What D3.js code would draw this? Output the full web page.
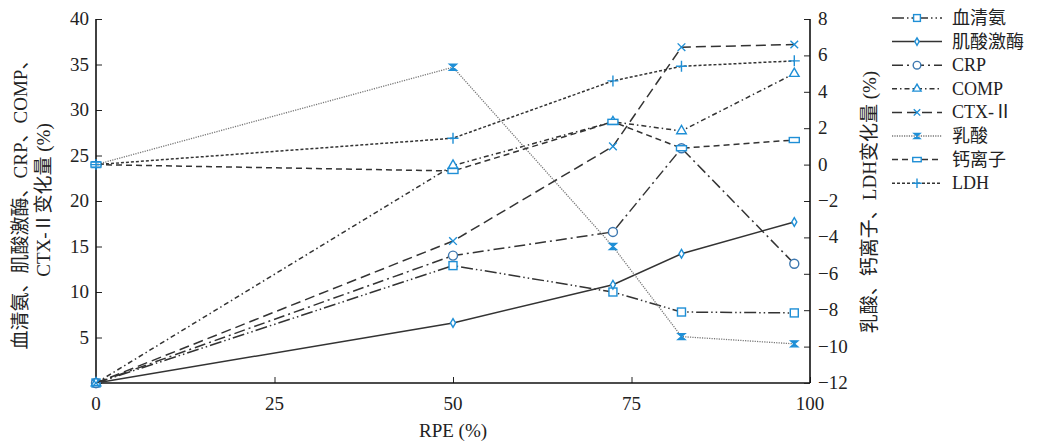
<!DOCTYPE html>
<html>
<head>
<meta charset="utf-8">
<script src="https://cdn.jsdelivr.net/npm/d3@7"></script>
<style>
  body { margin: 0; background: #fff; }
  text { font-family: "Liberation Serif", "Noto Sans CJK SC", serif; fill: #222; }
</style>
</head>
<body>
<div id="chart"></div>
<script>
// RPE positions (%)
const rpe = [0, 50, 72.4, 82, 97.8];

// left axis series (%)
const xueqingan = [0, 12.9, 10.0, 7.8, 7.7];
const jisuanjimei = [0, 6.6, 10.8, 14.2, 17.7];
const crp = [0, 14.0, 16.6, 25.8, 13.1];
const comp = [0, 23.9, 28.7, 27.7, 34.0];
const ctx2 = [0, 15.6, 26.0, 36.9, 37.2];

// right axis series (%)
const rusuan = [0, 5.35, -4.5, -9.45, -9.85];
const gailizi = [0, -0.35, 2.35, 0.9, 1.35];
const ldh = [0, 1.45, 4.6, 5.4, 5.7];

const xTicks = [0, 25, 50, 75, 100];
const leftTicks = [5, 10, 15, 20, 25, 30, 35, 40];
const rightTicks = [8, 6, 4, 2, 0, -2, -4, -6, -8, -10, -12];

const blue = "#1f8fd6";
const series = [
  { name: "血清氨", values: xueqingan, axis: "L", dash: "12,3,1.5,3,1.5,3", mark: "square" },
  { name: "肌酸激酶", values: jisuanjimei, axis: "L", dash: null, mark: "diamond" },
  { name: "CRP", values: crp, axis: "L", dash: "11,4,2,4", mark: "circle" },
  { name: "COMP", values: comp, axis: "L", dash: "5,3,1.5,3", mark: "triangle" },
  { name: "CTX-Ⅱ", values: ctx2, axis: "L", dash: "10,5", mark: "cross" },
  { name: "乳酸", values: rusuan, axis: "R", dash: "1.2,1.2", mark: "star" },
  { name: "钙离子", values: gailizi, axis: "R", dash: "6,4", mark: "rect" },
  { name: "LDH", values: ldh, axis: "R", dash: "3,2", mark: "plus" }
];

const svg = d3.select("#chart").append("svg")
  .attr("width", 1037).attr("height", 444);

const x = d3.scaleLinear().domain([0, 100]).range([96, 810]);
const yL = d3.scaleLinear().domain([0, 40]).range([383, 19]);
const yR = d3.scaleLinear().domain([-12, 8]).range([383, 19]);

// axes, ticks pointing inward
svg.append("g").attr("transform", "translate(0,383)")
  .call(d3.axisTop(x).tickValues(xTicks).tickSize(6).tickFormat(""))
  .call(g => g.select(".domain").remove());
svg.append("line").attr("x1", 96).attr("x2", 810).attr("y1", 383).attr("y2", 383)
  .attr("stroke", "#111").attr("stroke-width", 1.6);
svg.append("g").attr("transform", "translate(96,0)")
  .call(d3.axisRight(yL).tickValues([0].concat(leftTicks)).tickSize(6).tickFormat(""))
  .call(g => g.select(".domain").remove());
svg.append("line").attr("x1", 96).attr("x2", 96).attr("y1", 19).attr("y2", 383)
  .attr("stroke", "#111").attr("stroke-width", 1.6);
svg.append("g").attr("transform", "translate(810,0)")
  .call(d3.axisLeft(yR).tickValues(rightTicks).tickSize(6).tickFormat(""))
  .call(g => g.select(".domain").remove());
svg.append("line").attr("x1", 810).attr("x2", 810).attr("y1", 19).attr("y2", 383)
  .attr("stroke", "#111").attr("stroke-width", 1.6);
svg.selectAll(".tick line").attr("stroke", "#222");

// tick labels
svg.selectAll(".xl").data(xTicks).join("text")
  .attr("x", d => x(d)).attr("y", 410).attr("text-anchor", "middle")
  .style("font-size", "19px").text(d => d);
svg.selectAll(".ll").data(leftTicks).join("text")
  .attr("x", 89).attr("y", d => yL(d) + 6).attr("text-anchor", "end")
  .style("font-size", "19px").text(d => d);
svg.selectAll(".rl").data(rightTicks).join("text")
  .attr("x", 818).attr("y", d => yR(d) + 6).attr("text-anchor", "start")
  .style("font-size", "19px").text(d => d < 0 ? "−" + (-d) : d);

// axis titles
svg.append("text").attr("x", 453).attr("y", 437).attr("text-anchor", "middle")
  .style("font-size", "19px").text("RPE (%)");
svg.append("text").attr("transform", "translate(27,200) rotate(-90)").attr("text-anchor", "middle")
  .style("font-size", "19px").text("血清氨、肌酸激酶、CRP、COMP、");
svg.append("text").attr("transform", "translate(50,200) rotate(-90)").attr("text-anchor", "middle")
  .style("font-size", "19px").text("CTX-Ⅱ变化量 (%)");
svg.append("text").attr("transform", "translate(876,202) rotate(-90)").attr("text-anchor", "middle")
  .style("font-size", "19px").text("乳酸、钙离子、LDH变化量 (%)");

function drawMark(g, type, k) {
  k = k || 1;
  let el;
  if (type === "square") el = g.append("rect").attr("x", -4 * k).attr("y", -4 * k).attr("width", 8 * k).attr("height", 8 * k);
  else if (type === "rect") el = g.append("rect").attr("x", -5 * k).attr("y", -2.5 * k).attr("width", 10 * k).attr("height", 5 * k);
  else if (type === "circle") el = g.append("circle").attr("r", 4.5 * k);
  else if (type === "diamond") el = g.append("path").attr("d", d3.symbol(d3.symbolDiamond, 22 * k * k)());
  else if (type === "triangle") el = g.append("path").attr("d", d3.symbol(d3.symbolTriangle, 40 * k * k)());
  else if (type === "cross") el = g.append("path").attr("d", d3.symbol(d3.symbolTimes, 40 * k * k)());
  else if (type === "plus") el = g.append("path").attr("d", `M${-5.5 * k},0L${5.5 * k},0M0,${-5.5 * k}L0,${5.5 * k}`);
  else if (type === "star") el = g.append("path")
    .attr("d", `M${-3.5 * k},${-3 * k}L${3.5 * k},${-3 * k}L${-3.5 * k},${3 * k}L${3.5 * k},${3 * k}Z`);
  el.attr("fill", type === "star" ? blue : "#fff")
    .attr("stroke", type === "circle" ? "#3d78b0" : blue)
    .attr("stroke-width", 1.4);
}

// lines and markers
series.forEach(s => {
  const y = s.axis === "L" ? yL : yR;
  const line = d3.line().x((d, i) => x(rpe[i])).y(d => y(d));
  svg.append("path").datum(s.values)
    .attr("d", line).attr("fill", "none")
    .attr("stroke", s.name === "乳酸" ? "#777" : "#333")
    .attr("stroke-width", s.name === "乳酸" ? 1.3 : 1.5)
    .attr("stroke-dasharray", s.dash);
  s.values.forEach((v, i) => {
    const g = svg.append("g").attr("transform", `translate(${x(rpe[i])},${y(v)})`);
    drawMark(g, s.mark);
  });
});

// legend
const legend = svg.append("g").attr("transform", "translate(892,18)");
series.forEach((s, i) => {
  const g = legend.append("g").attr("transform", `translate(0,${i * 23.6})`);
  g.append("line").attr("x1", 0).attr("x2", 50).attr("y1", 0).attr("y2", 0)
    .attr("stroke", s.name === "乳酸" ? "#777" : "#333").attr("stroke-width", 1.5)
    .attr("stroke-dasharray", s.dash);
  drawMark(g.append("g").attr("transform", "translate(25,0)"), s.mark, 0.85);
  g.append("text").attr("x", 60).attr("y", 6).style("font-size", "18px").text(s.name);
});
</script>
</body>
</html>
